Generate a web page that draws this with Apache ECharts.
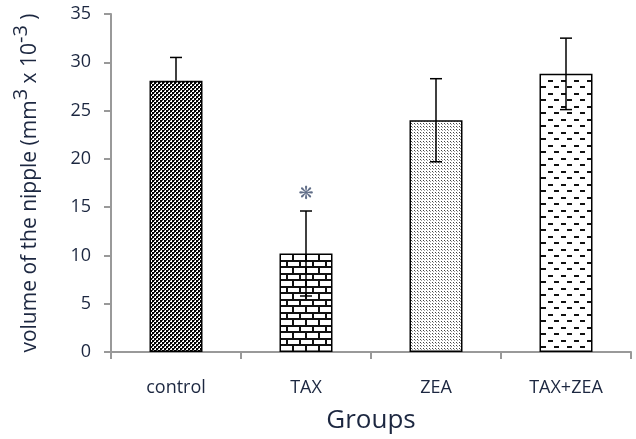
<!DOCTYPE html>
<html><head><meta charset="utf-8">
<script src="https://cdn.jsdelivr.net/npm/echarts@6/dist/echarts.min.js"></script>
<style>html,body{margin:0;padding:0;background:#fff}#c{width:636px;height:439px}</style>
</head><body><div id="c"></div>
<script>
const categories = ['control', 'TAX', 'ZEA', 'TAX+ZEA'];
const means = [28.1, 10.2, 24.0, 28.8];
const sd = [2.4, 4.4, 4.3, 3.7];
const showLower = [false, true, true, true];
const yTicks = [0, 5, 10, 15, 20, 25, 30, 35];
const starGroup = 'TAX';
const starValue = 16.3;

const TXT = '#1c2740';
const FONT = '"Open Sans", "Noto Sans", sans-serif';

function makePattern(w, h, draw) {
  const c = document.createElement('canvas');
  c.width = w; c.height = h;
  const ctx = c.getContext('2d');
  ctx.fillStyle = '#fff'; ctx.fillRect(0, 0, w, h);
  draw(ctx);
  return { image: c, repeat: 'repeat' };
}
const patChecker = makePattern(4, 4, ctx => {
  ctx.fillStyle = '#000';
  ctx.fillRect(0, 0, 2, 2); ctx.fillRect(2, 2, 2, 2);
  ctx.fillStyle = '#444';
  ctx.fillRect(2, 0, 1, 1); ctx.fillRect(0, 2, 1, 1);
});
const patBrick = makePattern(26, 13, ctx => {
  ctx.fillStyle = '#111';
  ctx.fillRect(0, 0, 26, 2); ctx.fillRect(0, 6, 26, 2);
  ctx.fillRect(0, 0, 2, 7); ctx.fillRect(13, 0, 2, 7);
  ctx.fillRect(6, 7, 2, 6); ctx.fillRect(19, 7, 2, 6);
});
const patDots = makePattern(3, 3, ctx => {
  ctx.fillStyle = '#444';
  ctx.fillRect(0, 0, 1, 1);
  ctx.fillStyle = '#999';
  ctx.fillRect(1, 1, 1, 1);
});
const patDash = makePattern(13, 13, ctx => {
  ctx.fillStyle = '#111';
  ctx.fillRect(2, 2, 5, 2); ctx.fillRect(8, 8, 5, 2);
});
const patterns = [patChecker, patBrick, patDots, patDash];

const chart = echarts.init(document.getElementById('c'), null, { renderer: 'canvas' });
chart.setOption({
  animation: false,
  backgroundColor: '#fff',
  grid: { left: 111, right: 5, top: 14, bottom: 86 },
  xAxis: {
    type: 'category', data: categories,
    name: 'Groups', nameLocation: 'middle', nameGap: 56,
    nameTextStyle: { fontSize: 26, color: TXT, fontFamily: FONT },
    axisLine: { lineStyle: { color: '#999', width: 2 } },
    axisTick: { show: true, length: 7, lineStyle: { color: '#999', width: 2 } },
    axisLabel: { fontSize: 18, color: TXT, fontFamily: FONT, margin: 27 }
  },
  yAxis: {
    type: 'value', min: yTicks[0], max: yTicks[yTicks.length - 1], interval: 5,
    name: '{a|volume of the nipple (mm}{s|3}{a| x 10}{s|-3}{a| )}',
    nameLocation: 'middle', nameGap: 70,
    nameTextStyle: {
      color: TXT, fontFamily: FONT,
      rich: {
        a: { fontSize: 21, color: TXT, fontFamily: FONT, lineHeight: 30, verticalAlign: 'bottom' },
        s: { fontSize: 20, color: TXT, fontFamily: FONT, lineHeight: 30, verticalAlign: 'top' }
      }
    },
    axisLine: { show: true, lineStyle: { color: '#999', width: 2 } },
    axisTick: { show: true, length: 7, lineStyle: { color: '#999', width: 2 } },
    axisLabel: { fontSize: 18, color: TXT, fontFamily: FONT, margin: 20 },
    splitLine: { show: false }
  },
  series: [
    {
      type: 'bar', barWidth: 53,
      data: means.map((v, i) => ({
        value: v,
        itemStyle: { color: patterns[i], borderColor: '#000', borderWidth: 1.5 }
      })),
      label: { show: false }
    },
    {
      type: 'custom', z: 5,
      data: means.map((v, i) => [i, v, sd[i], showLower[i] ? 1 : 0]),
      renderItem: function (params, api) {
        const i = api.value(0), m = api.value(1), e = api.value(2), lo = api.value(3);
        const top = api.coord([i, m + e]);
        const bot = api.coord([i, lo ? m - e : m]);
        const half = 6;
        const children = [
          { type: 'line', shape: { x1: top[0], y1: top[1], x2: bot[0], y2: bot[1] }, style: { stroke: '#000', lineWidth: 1.5 } },
          { type: 'line', shape: { x1: top[0] - half, y1: top[1], x2: top[0] + half, y2: top[1] }, style: { stroke: '#000', lineWidth: 1.5 } }
        ];
        if (lo) children.push({ type: 'line', shape: { x1: bot[0] - half, y1: bot[1], x2: bot[0] + half, y2: bot[1] }, style: { stroke: '#000', lineWidth: 1.5 } });
        return { type: 'group', children: children };
      }
    },
    {
      type: 'scatter', symbolSize: 0, z: 6,
      data: [[starGroup, starValue]],
      label: { show: true, formatter: '❋', position: 'inside', fontSize: 18, color: '#3a4a6a', fontFamily: 'DejaVu Sans' }
    }
  ]
});
</script>
</body></html>
